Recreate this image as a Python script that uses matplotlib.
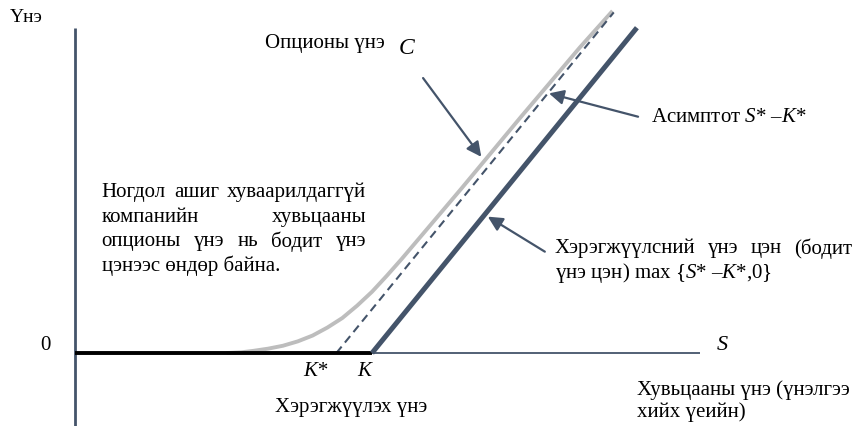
import matplotlib.pyplot as plt

plt.rcParams['font.family'] = ['Liberation Serif', 'DejaVu Serif']
plt.rcParams['mathtext.fontset'] = 'custom'
plt.rcParams['mathtext.rm'] = 'Liberation Serif'
plt.rcParams['mathtext.it'] = 'Liberation Serif:italic'

SLATE = '#44546a'
GRAY = '#bdbdbd'
FS = 15

# strike prices
K = 5.0
K_star = 4.4

# option price curve C(S)
option_s = [2.55, 2.8, 3.0, 3.25, 3.5, 3.75, 4.0, 4.25, 4.5, 4.75, 5.0, 5.25,
            5.5, 5.75, 6.0, 6.5, 7.0, 7.5, 8.0, 8.5, 9.05]
option_c = [0.00, 0.01, 0.03, 0.06, 0.10, 0.16, 0.24, 0.35, 0.48, 0.65, 0.84, 1.06,
            1.29, 1.53, 1.77, 2.25, 2.74, 3.23, 3.71, 4.19, 4.69]

# asymptote S* - K*
asym_s = [4.4, 9.07]
asym_v = [0.0, 4.67]

# exercise value max{S - K, 0}
flat_s = [0.0, 5.0]
flat_v = [0.0, 0.0]
payoff_s = [5.0, 9.46]
payoff_v = [0.0, 4.46]

paragraph = [
    'Ногдол ашиг хуваарилдаггүй',
    'компанийн хувьцааны',
    'опционы үнэ нь бодит үнэ',
    'цэнээс өндөр байна.',
]

fig = plt.figure(figsize=(8.62, 4.26), dpi=100)
ax = fig.add_axes([0, 0, 1, 1])
ax.set_xlim(-1.263, 13.25)
ax.set_ylim(-1.0, 4.84)
ax.axis('off')

# axes
ax.plot([0, 0], [-1.0, 4.46], color=SLATE, lw=2.0, solid_capstyle='butt')
ax.plot([0, 10.52], [0, 0], color=SLATE, lw=1.3, solid_capstyle='butt')

ax.plot(option_s, option_c, color=GRAY, lw=2.8, solid_capstyle='butt')
ax.plot(asym_s, asym_v, color=SLATE, lw=1.5, dashes=(4, 2.5))
ax.plot(flat_s, flat_v, color='black', lw=2.8, solid_capstyle='butt')
ax.plot(payoff_s, payoff_v, color=SLATE, lw=3.6, solid_capstyle='butt')

# labels
ax.text(-1.1, 4.6, 'Үнэ', fontsize=FS - 1, va='center')
ax.text(-0.5, 0.1, '0', fontsize=FS, va='center', ha='center')
ax.text(10.8, 0.1, 'S', fontsize=FS + 1, style='italic', va='center')
ax.text(K_star - 0.55, -0.25, 'K*', fontsize=FS, style='italic', va='center')
ax.text(K - 0.25, -0.25, 'K', fontsize=FS, style='italic', va='center')
ax.text(3.37, -0.75, 'Хэрэгжүүлэх үнэ', fontsize=FS, va='center')
ax.text(13.05, -0.66, 'Хувьцааны үнэ (үнэлгээ\nхийх үеийн)', fontsize=FS,
        va='center', ha='right', multialignment='left', linespacing=1.1)
ax.text(3.2, 4.25, 'Опционы үнэ', fontsize=FS, va='center')
ax.text(5.45, 4.18, 'C', fontsize=FS + 2, style='italic', va='center')

# arrows
arrow = dict(arrowstyle='-|>', color=SLATE, lw=1.6, mutation_scale=22,
             shrinkA=0, shrinkB=0)
ax.annotate('', xy=(6.84, 2.69), xytext=(5.86, 3.77), arrowprops=arrow)
ax.annotate('', xy=(7.98, 3.56), xytext=(9.48, 3.24), arrowprops=arrow)
ax.annotate('', xy=(6.95, 1.87), xytext=(7.91, 1.39), arrowprops=arrow)
ax.text(9.7, 3.23, 'Асимптот $S$* –$K$*', fontsize=FS, va='center')
ax.text(8.08, 1.10, 'үнэ цэн) max {$S$* –$K$*,0}', fontsize=FS, va='center')

fig.canvas.draw()
renderer = fig.canvas.get_renderer()
inv = ax.transData.inverted()


def justify(line, left, right, y):
    # spread the words of one line evenly between left and right
    words = line.split()
    arts = [ax.text(0, y, w, fontsize=FS, va='center') for w in words]
    widths = []
    for a in arts:
        bb = a.get_window_extent(renderer)
        widths.append(inv.transform((bb.x1, 0))[0] - inv.transform((bb.x0, 0))[0])
    gap = (right - left - sum(widths)) / (len(words) - 1)
    x = left
    for a, w in zip(arts, widths):
        a.set_x(x)
        x += w + gap


justify('Хэрэгжүүлсний үнэ цэн (бодит', 8.08, 13.08, 1.43)

left, right = 0.45, 4.9
y0, dy = 2.2, 0.335
for i, line in enumerate(paragraph):
    y = y0 - i * dy
    if i == len(paragraph) - 1:
        ax.text(left, y, line, fontsize=FS, va='center')
    else:
        justify(line, left, right, y)

fig.savefig('out.png', dpi=100)
